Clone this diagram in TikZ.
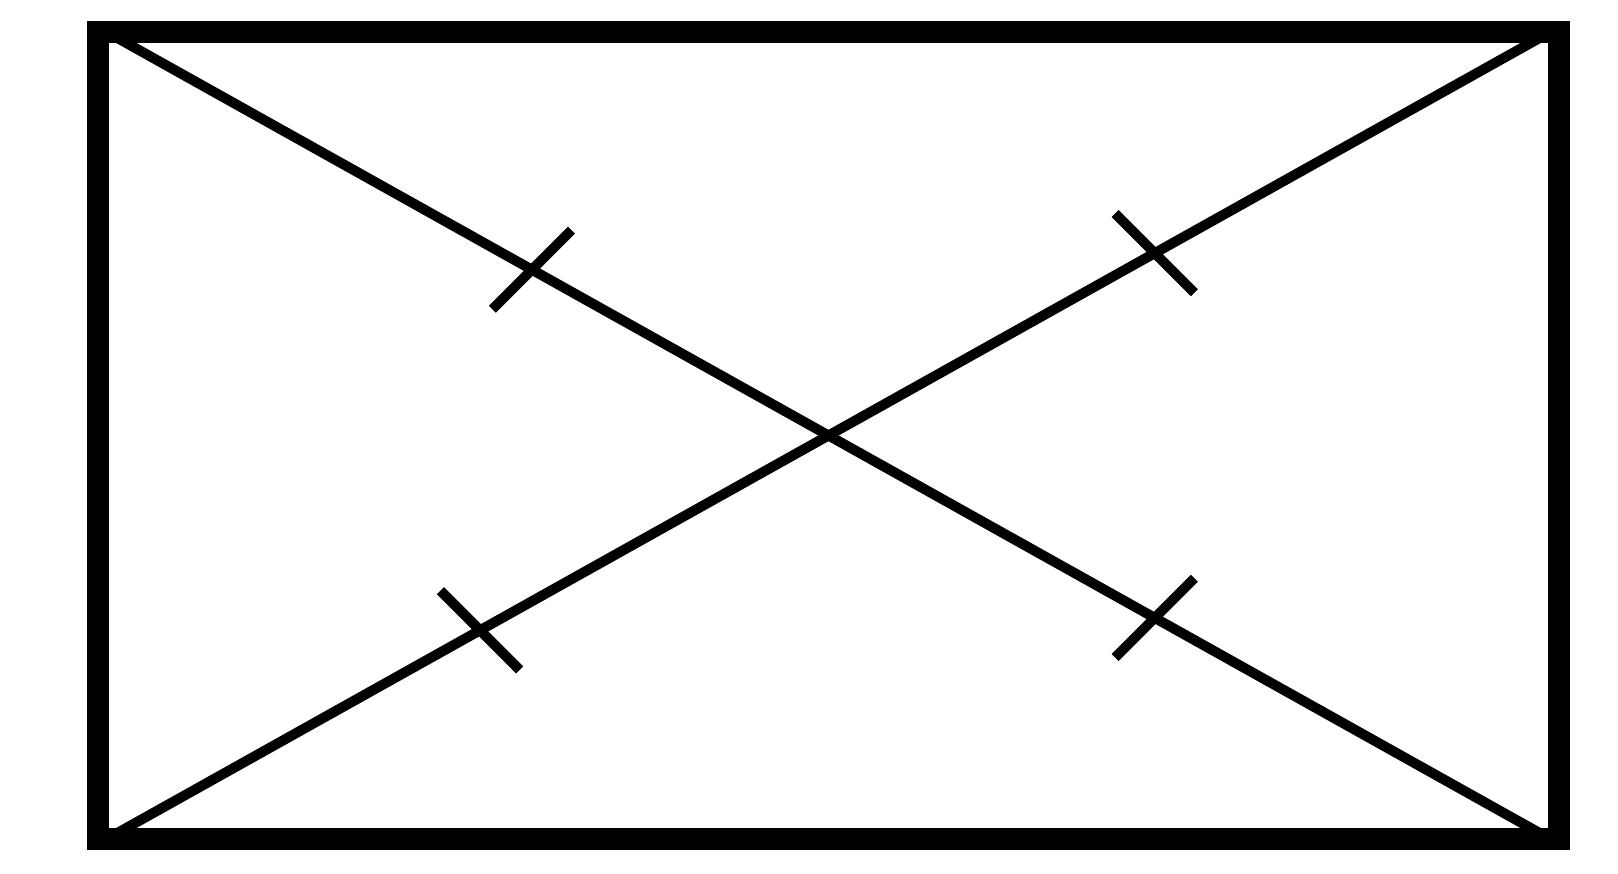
\documentclass[tikz,border=0pt]{standalone}
\usetikzlibrary{calc}
\tikzset{
  frame/.style={line width=0.22cm, line join=miter},
  diag/.style={line width=0.1cm},
  tick/.style={line width=0.1cm}
}
\begin{document}
\begin{tikzpicture}
\useasboundingbox (0,0) rectangle (16.18,8.74);
\coordinate (TL) at (0.98,8.42);
\coordinate (TR) at (15.59,8.42);
\coordinate (BR) at (15.59,0.35);
\coordinate (BL) at (0.98,0.35);
\coordinate (oTL) at (0.87,8.53);
\coordinate (oTR) at (15.70,8.53);
\coordinate (oBR) at (15.70,0.24);
\coordinate (oBL) at (0.87,0.24);
% diagonals (ends hidden under the frame)
\draw[diag] ($(oTL)!0.012!(oBR)$) -- ($(oTL)!0.988!(oBR)$);
\draw[diag] ($(oBL)!0.012!(oTR)$) -- ($(oBL)!0.988!(oTR)$);
% tick centres
\coordinate (t1) at ($(oTL)!0.30!(oBR)$);
\coordinate (t2) at ($(oTL)!0.72!(oBR)$);
\coordinate (t3) at ($(oBL)!0.265!(oTR)$);
\coordinate (t4) at ($(oBL)!0.72!(oTR)$);
\draw[tick] ($(t1)+(45:0.56)$) -- ($(t1)+(225:0.56)$);
\draw[tick] ($(t2)+(45:0.56)$) -- ($(t2)+(225:0.56)$);
\draw[tick] ($(t3)+(135:0.56)$) -- ($(t3)+(315:0.56)$);
\draw[tick] ($(t4)+(135:0.56)$) -- ($(t4)+(315:0.56)$);
% frame
\draw[frame] (TL) -- (TR) -- (BR) -- (BL) -- cycle;
\end{tikzpicture}
\end{document}
